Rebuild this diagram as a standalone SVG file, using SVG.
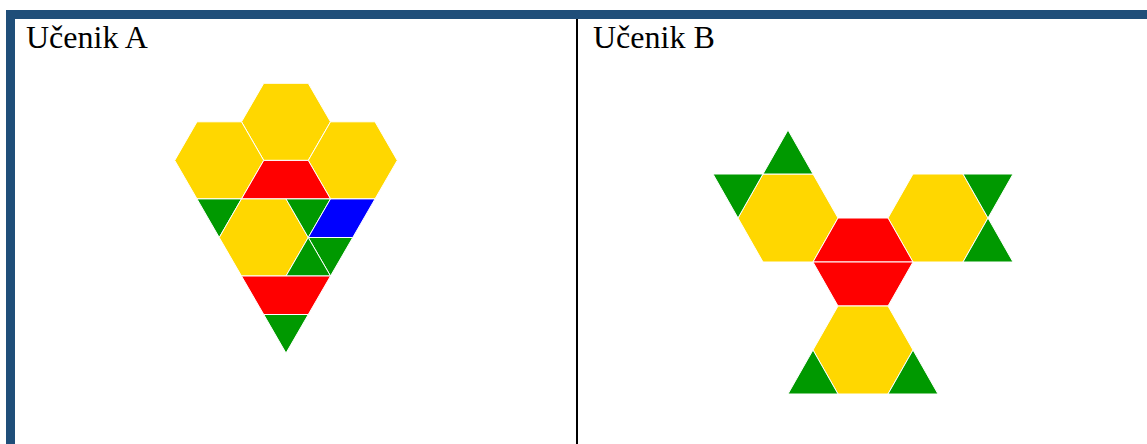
<svg xmlns="http://www.w3.org/2000/svg" width="1147" height="444" viewBox="0 0 1147 444">
<style>
.y{fill:#FFD700}.r{fill:#FF0000}.g{fill:#009900}.b{fill:#0000FF}
polygon{stroke:#ffffff;stroke-width:1;stroke-linejoin:round}
.lbl{font-family:"Liberation Serif","Times New Roman",serif;font-size:32px;fill:#000}
</style>
<rect x="0" y="0" width="1147" height="444" fill="#ffffff"/>
<g id="frame">
<rect x="6" y="10" width="1141" height="9" fill="#1F4E79"/>
<rect x="6" y="10" width="9" height="434" fill="#1F4E79"/>
<rect x="576" y="19" width="2" height="425" fill="#000000"/>
</g>
<g id="labelA"><text class="lbl" x="26" y="48">Učenik A</text></g>
<g id="labelB"><text class="lbl" x="593" y="48">Učenik B</text></g>
<g id="studentA">
<polygon class="y" points="263.75,83.3 308.25,83.3 330.5,121.8 308.25,160.4 263.75,160.4 241.5,121.8"/>
<polygon class="y" points="197,121.8 241.5,121.8 263.75,160.4 241.5,198.9 197,198.9 174.75,160.4"/>
<polygon class="y" points="330.5,121.8 375,121.8 397.25,160.4 375,198.9 330.5,198.9 308.25,160.4"/>
<polygon class="r" points="263.75,160.4 308.25,160.4 330.5,198.9 241.5,198.9"/>
<polygon class="g" points="197,198.9 241.5,198.9 219.25,237.5"/>
<polygon class="y" points="241.5,198.9 286,198.9 308.25,237.5 286,276 241.5,276 219.25,237.5"/>
<polygon class="g" points="286,198.9 330.5,198.9 308.25,237.5"/>
<polygon class="b" points="330.5,198.9 375,198.9 352.75,237.5 308.25,237.5"/>
<polygon class="g" points="308.25,237.5 352.75,237.5 330.5,276"/>
<polygon class="g" points="308.25,237.5 330.5,276 286,276"/>
<polygon class="r" points="241.5,276 330.5,276 308.25,314.5 263.75,314.5"/>
<polygon class="g" points="263.75,314.5 308.25,314.5 286,353.1"/>
</g>
<g id="studentB">
<polygon class="y" points="763,174 813,174 838,218 813,262 763,262 738,218"/>
<polygon class="g" points="788,130 813,174 763,174"/>
<polygon class="g" points="713,174 763,174 738,218"/>
<polygon class="y" points="913,174 963,174 988,218 963,262 913,262 888,218"/>
<polygon class="g" points="963,174 1013,174 988,218"/>
<polygon class="g" points="988,218 1013,262 963,262"/>
<polygon class="r" points="838,218 888,218 913,262 813,262"/>
<polygon class="r" points="813,262 913,262 888,306 838,306"/>
<polygon class="y" points="838,306 888,306 913,350 888,394 838,394 813,350"/>
<polygon class="g" points="813,350 838,394 788,394"/>
<polygon class="g" points="913,350 938,394 888,394"/>
</g>
</svg>
